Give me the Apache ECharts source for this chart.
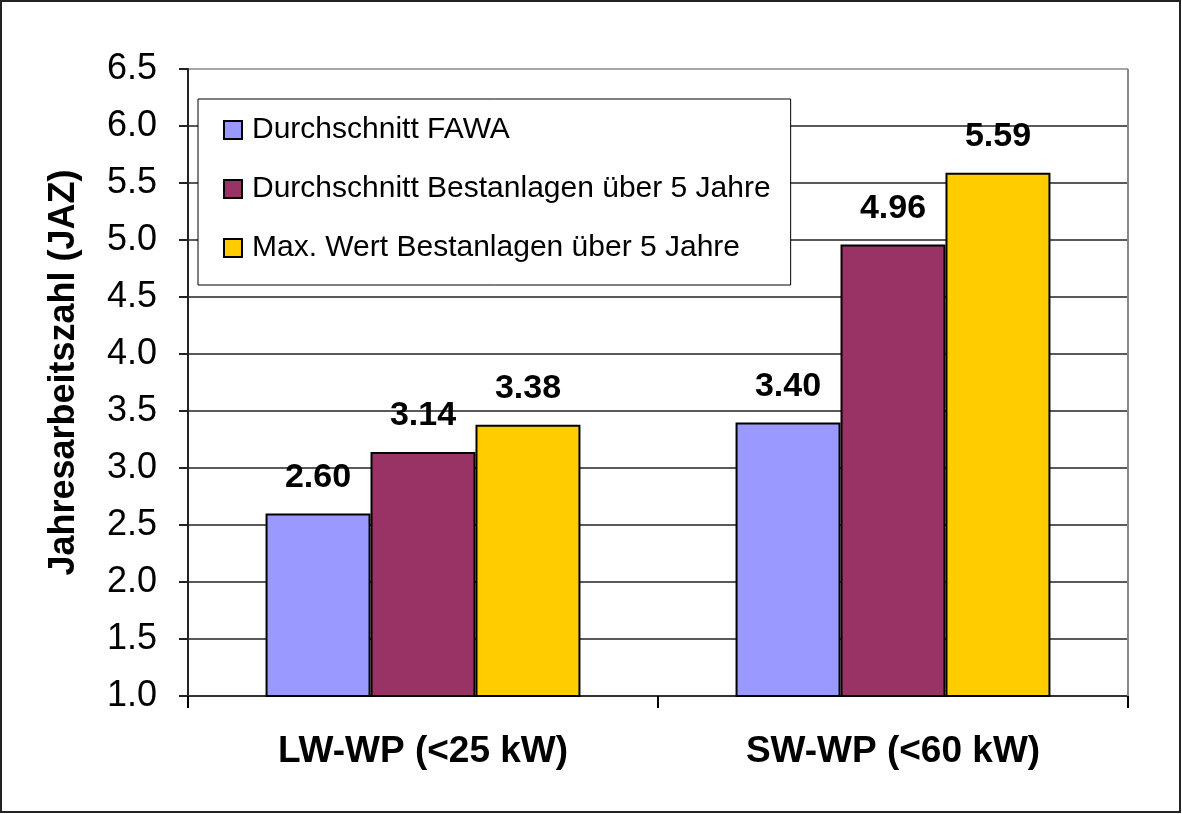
<!DOCTYPE html>
<html>
<head>
<meta charset="utf-8">
<script src="https://cdn.jsdelivr.net/npm/echarts@6/dist/echarts.min.js"></script>
<style>
  html, body { margin: 0; padding: 0; background: #fff; }
  #chart { width: 1182px; height: 814px; }
</style>
</head>
<body>
<div id="chart"></div>
<script>
// Kategorien und Werte (JAZ)
const categories = ['LW-WP (<25 kW)', 'SW-WP (<60 kW)'];
const seriesNames = [
  'Durchschnitt FAWA',
  'Durchschnitt Bestanlagen über 5 Jahre',
  'Max. Wert Bestanlagen über 5 Jahre'
];
const fawa = [2.60, 3.40];
const bestandAvg = [3.14, 4.96];
const bestandMax = [3.38, 5.59];
const colors = ['#9999FF', '#993366', '#FFCC00'];

const font = 'Arial, "Liberation Sans", sans-serif';
const chart = echarts.init(document.getElementById('chart'));

const makeSeries = (name, data, color) => ({
  name: name,
  type: 'bar',
  data: data,
  barGap: '0%',
  barCategoryGap: '33%',
  itemStyle: { color: color, borderColor: '#000', borderWidth: 2 },
  label: {
    show: true,
    position: 'top',
    distance: 19,
    formatter: (p) => p.value.toFixed(2),
    color: '#000',
    fontFamily: font,
    fontWeight: 'bold',
    fontSize: 34
  }
});

// grey top gridline (plot border), black elsewhere
const splitColors = [];
for (let i = 0; i < 11; i++) splitColors.push('#222');
splitColors.push('#888');

const option = {
  animation: false,
  backgroundColor: '#fff',
  textStyle: { fontFamily: font },
  graphic: [
    {
      type: 'rect',
      shape: { x: 1, y: 1, width: 1179, height: 811 },
      style: { fill: 'none', stroke: '#222', lineWidth: 2 },
      z: 100
    },
    {
      // right plot border
      type: 'line',
      shape: { x1: 1128, y1: 69, x2: 1128, y2: 696 },
      style: { stroke: '#888', lineWidth: 2 },
      z: 1
    }
  ],
  grid: { left: 188, top: 69, width: 940, height: 627 },
  legend: {
    orient: 'vertical',
    left: 198,
    top: 99,
    padding: [16, 20, 22, 25],
    itemGap: 29,
    itemWidth: 18,
    itemHeight: 18,
    backgroundColor: '#fff',
    borderColor: '#000',
    borderWidth: 1,
    icon: 'rect',
    itemStyle: { borderColor: '#000', borderWidth: 2 },
    textStyle: { fontFamily: font, fontSize: 30, color: '#000', padding: [0, 0, 0, 5] },
    data: seriesNames
  },
  xAxis: {
    type: 'category',
    data: categories,
    axisLine: { lineStyle: { color: '#333', width: 2 } },
    axisTick: { show: true, length: 12, lineStyle: { color: '#000', width: 2 } },
    axisLabel: {
      margin: 37,
      color: '#000',
      fontFamily: font,
      fontWeight: 'bold',
      fontSize: 37
    }
  },
  yAxis: {
    type: 'value',
    min: 1,
    max: 6.5,
    interval: 0.5,
    name: 'Jahresarbeitszahl (JAZ)',
    nameLocation: 'middle',
    nameGap: 106,
    nameTextStyle: {
      color: '#000',
      fontFamily: font,
      fontWeight: 'bold',
      fontSize: 36,
      padding: [0, 0, 0, 20]
    },
    axisLine: { show: true, lineStyle: { color: '#222', width: 2 } },
    axisTick: { show: true, length: 9, lineStyle: { color: '#222', width: 2 } },
    axisLabel: {
      margin: 31,
      color: '#000',
      fontFamily: font,
      fontSize: 36,
      formatter: (v) => v.toFixed(1)
    },
    splitLine: { show: true, lineStyle: { color: splitColors, width: 1.5 } }
  },
  series: [
    makeSeries(seriesNames[0], fawa, colors[0]),
    makeSeries(seriesNames[1], bestandAvg, colors[1]),
    makeSeries(seriesNames[2], bestandMax, colors[2])
  ]
};

chart.setOption(option);
</script>
</body>
</html>
